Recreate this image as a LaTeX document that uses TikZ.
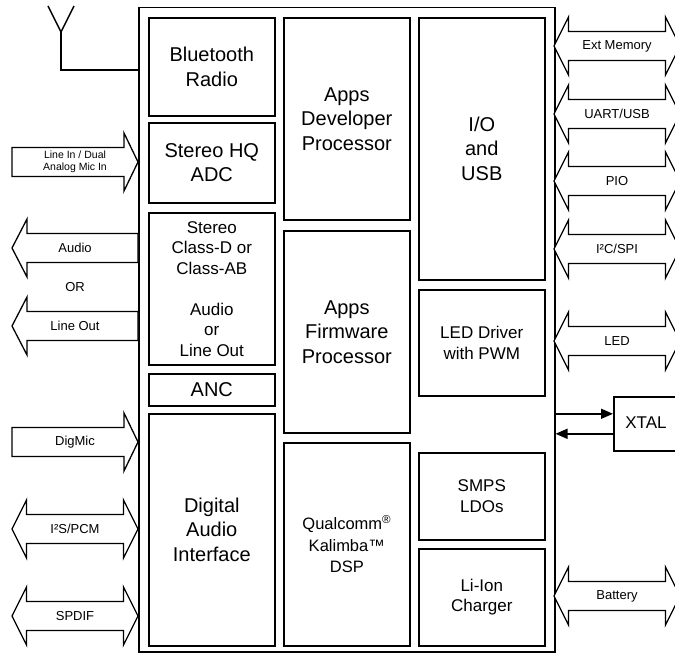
\documentclass[tikz,border=0pt]{standalone}
\usepackage{fontspec}
\setmainfont{Liberation Sans}
\usetikzlibrary{arrows.meta}

\tikzset{
  blk/.style={draw, line width=1.6pt, inner sep=0pt, align=center, anchor=north west},
  big/.style={font=\fontsize{20}{24.5}\selectfont},
  mid/.style={font=\fontsize{17}{20.5}\selectfont},
  dsp/.style={font=\fontsize{16.5}{21.5}\selectfont},
  barrow/.style={draw, line width=1.3pt, line join=miter, fill=white},
  alabel/.style={font=\fontsize{13}{15}\selectfont, inner sep=0pt, align=center},
  tiny/.style={font=\fontsize{10.5}{11.5}\selectfont, inner sep=0pt, align=center},
  sig/.style={line width=1.4pt, -{Triangle[length=12pt,width=10pt]}},
}

% double-headed block arrow: name, left tip x, right tip x, centre y, label
\newcommand{\dblarrow}[5]{%
  \draw[barrow] (#2,#4) -- (#2+14.5,#4-29) -- (#2+14.5,#4-14.5) -- (#3-14.5,#4-14.5)
    -- (#3-14.5,#4-29) -- (#3,#4) -- (#3-14.5,#4+29) -- (#3-14.5,#4+14.5)
    -- (#2+14.5,#4+14.5) -- (#2+14.5,#4+29) -- cycle;
  \node[alabel] (#1) at ({(#2+#3)/2},#4) {#5};}
% block arrow pointing right into the chip: name, centre y, label, label style
\newcommand{\inarrow}[4]{%
  \draw[barrow] (12,#2-14.5) -- (124,#2-14.5) -- (124,#2-29) -- (138,#2)
    -- (124,#2+29) -- (124,#2+14.5) -- (12,#2+14.5) -- cycle;
  \node[#4] (#1) at (75,#2) {#3};}
% block arrow pointing left out of the chip: name, centre y, label
\newcommand{\outarrow}[3]{%
  \draw[barrow] (12,#2) -- (27,#2-29) -- (27,#2-14.5) -- (138,#2-14.5)
    -- (138,#2+14.5) -- (27,#2+14.5) -- (27,#2+29) -- cycle;
  \node[alabel] (#1) at (75,#2) {#3};}

\begin{document}
\begin{tikzpicture}[x=1pt,y=-1pt]
\useasboundingbox (0,0) rectangle (675,655);
\clip (0,0) rectangle (675,655);
\fill[white] (0,0) rectangle (675,655);

% chip outline
\node[draw, line width=1.5pt, inner sep=0pt, anchor=north west,
      minimum width=416pt, minimum height=644pt] (chip) at (138,7) {};

% left column
\node[blk,big,minimum width=126pt,minimum height=98pt]  (bt)   at (148,17)  {Bluetooth\\Radio};
\node[blk,big,minimum width=126pt,minimum height=80pt]  (adc)  at (148,122) {Stereo HQ\\ADC};
\node[blk,mid,minimum width=126pt,minimum height=152pt] (amp)  at (148,212)
  {Stereo\\Class-D or\\Class-AB\\[20.5pt]Audio\\or\\Line Out};
\node[blk,big,minimum width=126pt,minimum height=32pt]  (anc)  at (148,373) {ANC};
\node[blk,big,minimum width=126pt,minimum height=232pt] (dai)  at (148,413) {Digital\\Audio\\Interface};

% middle column
\node[blk,big,minimum width=126pt,minimum height=202pt] (adp)  at (283,17)  {Apps\\Developer\\Processor};
\node[blk,big,minimum width=126pt,minimum height=202pt] (afp)  at (283,230) {Apps\\Firmware\\Processor};
\node[blk,dsp,minimum width=126pt,minimum height=203pt] (dsp)  at (283,442)
  {Qualcomm\textsuperscript{\textregistered}\\Kalimba™\\DSP};

% right column
\node[blk,big,minimum width=126pt,minimum height=262pt] (io)   at (418,17)  {I/O\\and\\USB};
\node[blk,mid,minimum width=126pt,minimum height=106pt] (led)  at (418,289) {LED Driver\\with PWM};
\node[blk,mid,minimum width=126pt,minimum height=87pt]  (smps) at (418,452) {SMPS\\LDOs};
\node[blk,mid,minimum width=126pt,minimum height=97pt]  (chg)  at (418,548) {Li-Ion\\Charger};

% crystal (its right side runs off the page)
\node[draw, line width=1.6pt, inner sep=0pt, anchor=north west,
      minimum width=80pt, minimum height=54pt] (xtal) at (613,396) {};
\node[mid] (xtaltext) at (646,423) {XTAL};
\coordinate (xe) at (chip.east |- xtal.west);
\draw[sig] ([yshift=10pt]xe) -- ([yshift=10pt]xtal.west);
\draw[sig] ([yshift=-10pt]xtal.west) -- ([yshift=-10pt]xe);

% antenna
\coordinate (ant) at (61,70);
\draw[line width=1.4pt] (48,6) -- (61,32) -- (74,6);
\draw[line width=1.4pt] (61,32) -- (ant) -- (chip.west |- ant);

% left-side interfaces
\inarrow{linein}{162}{Line In / Dual\\Analog Mic In}{tiny}
\outarrow{audio}{248}{Audio}
\node[alabel] (or) at (75,287) {OR};
\outarrow{lineout}{326}{Line Out}
\inarrow{digmic}{442}{DigMic}{alabel}
\dblarrow{i2s}{12}{138}{529}{I²S/PCM}
\dblarrow{spdif}{12}{138}{616}{SPDIF}

% right-side interfaces
\dblarrow{extmem}{554}{680}{46}{Ext Memory}
\dblarrow{uart}{554}{680}{114}{UART/USB}
\dblarrow{pio}{554}{680}{181}{PIO}
\dblarrow{i2c}{554}{680}{249}{I²C/SPI}
\dblarrow{ledio}{554}{680}{341}{LED}
\dblarrow{batt}{554}{680}{596}{Battery}
\end{tikzpicture}
\end{document}
